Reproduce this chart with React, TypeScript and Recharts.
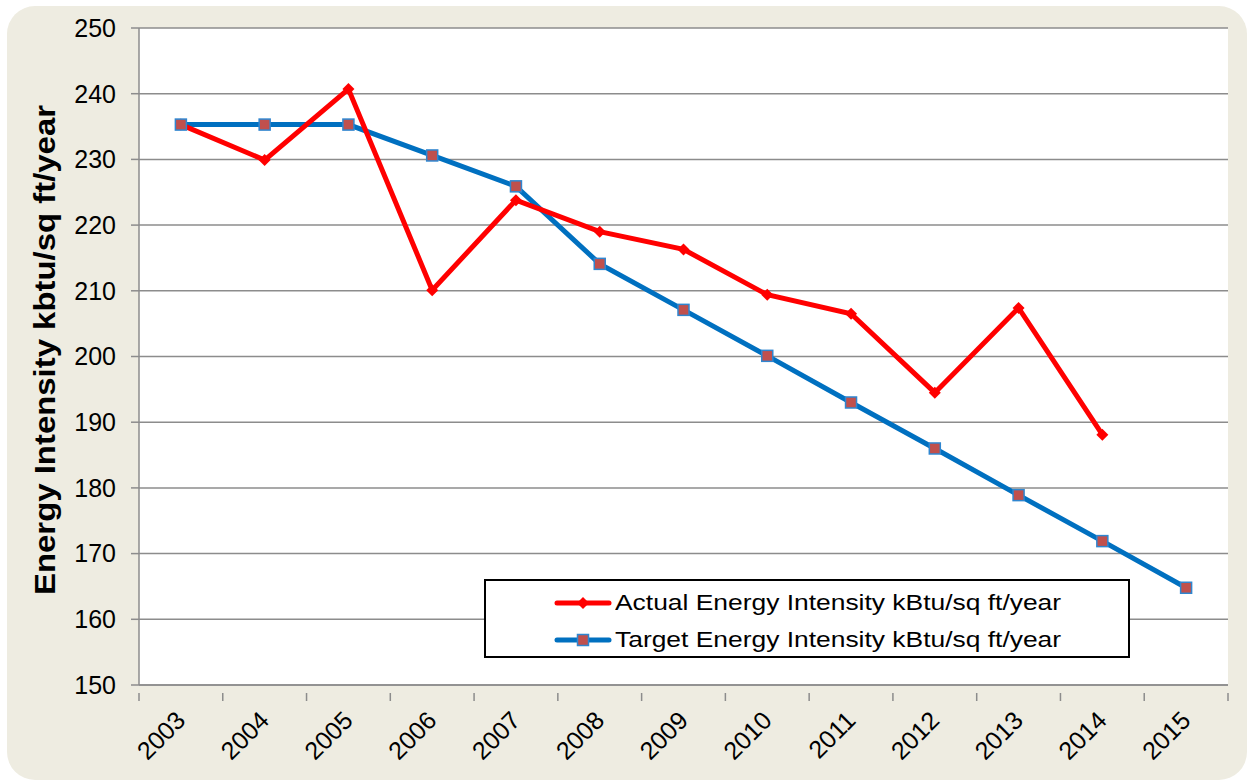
import { CartesianGrid, Line, LineChart, XAxis, YAxis } from "recharts";

const years = ["2003", "2004", "2005", "2006", "2007", "2008", "2009", "2010", "2011", "2012", "2013", "2014", "2015"];
const actual = [235.3, 229.9, 240.7, 210.1, 223.8, 219.0, 216.3, 209.4, 206.5, 194.5, 207.4, 188.1, null];
const target = [235.3, 235.3, 235.3, 230.6, 225.9, 214.1, 207.1, 200.1, 193.0, 186.0, 178.9, 171.9, 164.8];
const yTicks = [150, 160, 170, 180, 190, 200, 210, 220, 230, 240, 250];

const data = years.map((year, i) => ({ year, actual: actual[i], target: target[i] }));

const W = 1250;
const H = 783;
const M = { top: 28, right: 22, bottom: 0, left: 0 };
const Y_W = 139;
const X_H = 98;
const halfBand = (W - M.left - M.right - Y_W) / years.length / 2;
const font = "'Liberation Sans', Arial, sans-serif";
const gray = "#8c8c8c";

const XTick = (props: any) => {
  const { x, y, payload, index } = props;
  const isLast = index === years.length - 1;
  const ax = x + 6;
  const ay = y + 29;
  return (
    <g>
      <line x1={x - halfBand} x2={x - halfBand} y1={y} y2={y + 8} stroke={gray} strokeWidth={1.5} />
      {isLast ? (
        <line x1={x + halfBand} x2={x + halfBand} y1={y} y2={y + 8} stroke={gray} strokeWidth={1.5} />
      ) : null}
      <text
        x={ax}
        y={ay}
        textAnchor="end"
        fontSize={25}
        fontFamily={font}
        fill="#000"
        transform={`rotate(-45 ${ax} ${ay})`}
      >
        {payload.value}
      </text>
    </g>
  );
};

const Diamond = (props: any) => {
  const { cx, cy } = props;
  if (cx == null || cy == null) return null;
  const r = 6;
  return <path d={`M${cx},${cy - r}L${cx + r},${cy}L${cx},${cy + r}L${cx - r},${cy}Z`} fill="#ff0000" />;
};

const Square = (props: any) => {
  const { cx, cy } = props;
  if (cx == null || cy == null) return null;
  return <rect x={cx - 5.5} y={cy - 5.5} width={11} height={11} fill="#c0504d" stroke="#2f86d0" strokeWidth={1.5} />;
};

const YTitle = () => (
  <text
    x={55}
    y={350}
    textAnchor="middle"
    fontSize={30}
    fontWeight="bold"
    fontFamily={font}
    fill="#000"
    textLength={490}
    lengthAdjust="spacingAndGlyphs"
    transform="rotate(-90 55 350)"
  >
    Energy Intensity kbtu/sq ft/year
  </text>
);

const legendRows = [
  { label: "Actual Energy Intensity kBtu/sq ft/year", color: "#ff0000", mark: "diamond" },
  { label: "Target Energy Intensity kBtu/sq ft/year", color: "#0070c0", mark: "square" }
];

const LegendBox = () => (
  <div
    style={{
      position: "absolute",
      left: 484,
      top: 579,
      width: 646,
      height: 79,
      boxSizing: "border-box",
      border: "2px solid #000",
      background: "#fff",
      padding: "3px 0 0 68px",
      fontFamily: font,
      fontSize: 22
    }}
  >
    {legendRows.map((r) => (
      <div key={r.label} style={{ display: "flex", alignItems: "center", height: 37 }}>
        <svg width={58} height={20} style={{ marginRight: 3, flex: "none" }}>
          <line x1={3} x2={55} y1={10} y2={10} stroke={r.color} strokeWidth={5} strokeLinecap="round" />
          {r.mark === "diamond" ? (
            <path d="M29,4L35,10L29,16L23,10Z" fill="#ff0000" />
          ) : (
            <rect x={23.5} y={4.5} width={11} height={11} fill="#c0504d" stroke="#2f86d0" strokeWidth={1.5} />
          )}
        </svg>
        <span
          style={{
            color: "#000",
            display: "inline-block",
            whiteSpace: "nowrap",
            transform: "scaleX(1.2)",
            transformOrigin: "left center"
          }}
        >
          {r.label}
        </span>
      </div>
    ))}
  </div>
);

export default function App() {
  return (
    <div style={{ position: "absolute", left: 0, top: 0, width: W, height: H }}>
      <div
        style={{
          position: "absolute",
          left: 7,
          top: 6,
          width: 1240,
          height: 774,
          borderRadius: 28,
          background: "#eeece1"
        }}
      />
      <div style={{ position: "absolute", left: 0, top: 0 }}>
        <LineChart width={W} height={H} data={data} margin={M}>
          <CartesianGrid vertical={false} stroke={gray} strokeWidth={1.5} fill="#fff" fillOpacity={1} />
          <XAxis
            dataKey="year"
            height={X_H}
            padding={{ left: halfBand, right: halfBand }}
            tickLine={false}
            axisLine={{ stroke: gray, strokeWidth: 1.5 }}
            tick={<XTick />}
            interval={0}
          />
          <YAxis
            width={Y_W}
            domain={[150, 250]}
            ticks={yTicks}
            interval={0}
            tickSize={8}
            tickMargin={15}
            axisLine={{ stroke: gray, strokeWidth: 1.5 }}
            tickLine={{ stroke: gray, strokeWidth: 1.5 }}
            tick={{ fill: "#000", fontSize: 25, fontFamily: font }}
            label={<YTitle />}
          />
          <Line
            dataKey="target"
            stroke="#0070c0"
            strokeWidth={5}
            dot={false}
            activeDot={false}
            isAnimationActive={false}
          />
          <Line
            dataKey="actual"
            stroke="#ff0000"
            strokeWidth={5}
            dot={<Diamond />}
            activeDot={false}
            connectNulls={false}
            isAnimationActive={false}
          />
          {/* target markers drawn last so they sit on top of the red line */}
          <Line
            dataKey="target"
            stroke="none"
            dot={<Square />}
            activeDot={false}
            legendType="none"
            isAnimationActive={false}
          />
        </LineChart>
      </div>
      <LegendBox />
    </div>
  );
}
